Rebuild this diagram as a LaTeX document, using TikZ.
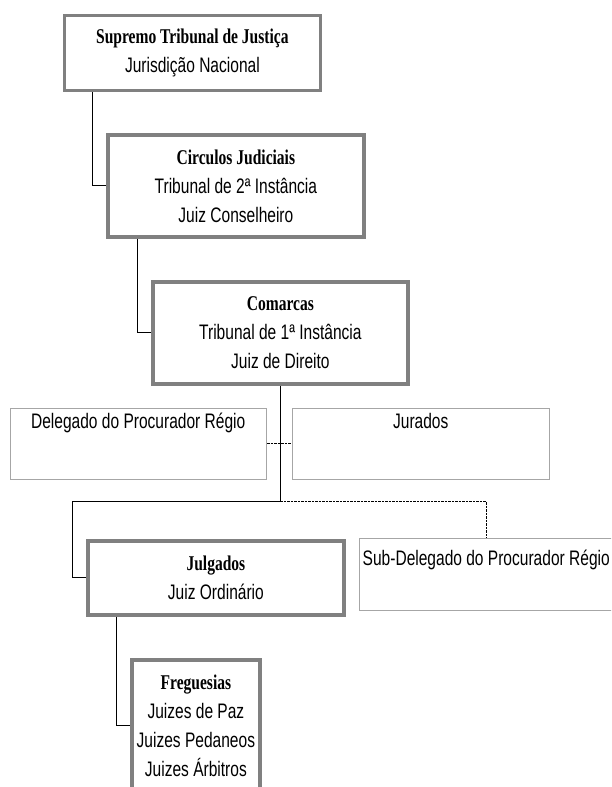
\documentclass[tikz,border=0pt]{standalone}
\usepackage{fontspec}
\setmainfont{Liberation Sans}[FakeStretch=0.74]
\newfontfamily\serifhead{Liberation Serif}[FakeStretch=0.74]
\newcommand{\courtname}[1]{{\serifhead\bfseries #1}}

\begin{document}
\begin{tikzpicture}[x=1pt,y=-1pt,
  font=\fontsize{21}{29}\selectfont,
  courtbox/.style={draw=black!50,line width=3.8pt,anchor=north west,align=center,inner sep=0pt},
  sidebox/.style={draw=black!35,line width=1.5pt,anchor=north west,inner sep=0pt},
  link/.style={line width=1pt},
  dotlink/.style={line width=0.8pt,dash pattern=on 2.5pt off 1pt}]
  \useasboundingbox (0,0) rectangle (611,787);
  \clip (0,0) rectangle (611,787);
  \node[courtbox,minimum width=256pt,minimum height=75pt] (stj) at (62.5,13.5)
    {\courtname{Supremo Tribunal de Justiça}\\Jurisdição Nacional};
  \node[courtbox,minimum width=256pt,minimum height=102pt] (circ) at (106,133)
    {\courtname{Circulos Judiciais}\\Tribunal de 2ª Instância\\Juiz Conselheiro};
  \node[courtbox,minimum width=255pt,minimum height=102pt] (com) at (151,280)
    {\courtname{Comarcas}\\Tribunal de 1ª Instância\\Juiz de Direito};
  \node[sidebox,minimum width=256pt,text height=20.5pt,text depth=50.5pt] (del) at (9.5,407.5)
    {Delegado do Procurador Régio};
  \node[sidebox,minimum width=257pt,text height=20.5pt,text depth=50.5pt] (jur) at (291.5,407.5)
    {Jurados};
  \node[courtbox,minimum width=256pt,minimum height=74pt] (jul) at (86,539)
    {\courtname{Julgados}\\Juiz Ordinário};
  \node[sidebox,minimum width=254pt,text height=27.5pt,text depth=44.5pt] (sub) at (358.5,537.5)
    {Sub-Delegado do Procurador Régio};
  \node[courtbox,minimum width=128pt,inner ysep=15pt] (freg) at (130,658)
    {\courtname{Freguesias}\\Juizes de Paz\\Juizes Pedaneos\\Juizes Árbitros\\ \mbox{}};

  \coordinate (fork) at ([yshift=-116pt]com.south);
  \coordinate (jleft) at ([xshift=-14pt]jul.west);
  \draw[link] (stj.south west) ++(30,0) |- (circ.west);
  \draw[link] (circ.south west) ++(31,0) |- (com.west);
  \draw[link] (com.south) -- (fork) -| (jleft) -- (jul.west);
  \draw[dotlink] (fork) -| (sub.north);
  \draw[dotlink] (del.east) -- (jur.west);
  \draw[link] (jul.south west) ++(30,0) |- ([yshift=-67pt]freg.north west);
\end{tikzpicture}
\end{document}
